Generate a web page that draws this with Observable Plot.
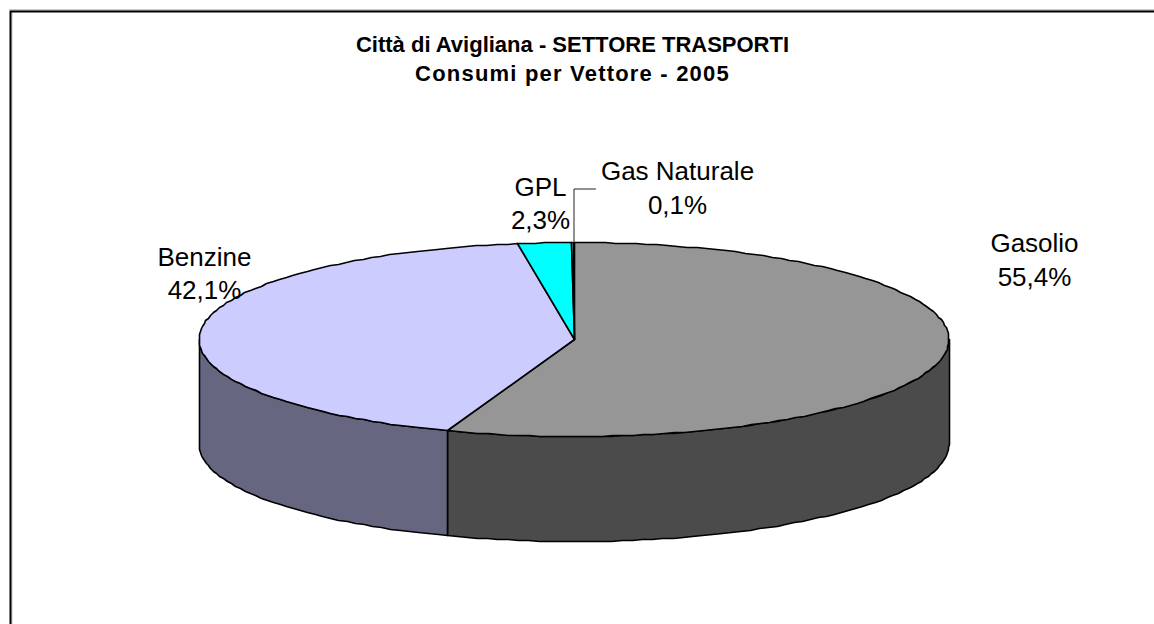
<!DOCTYPE html>
<html><head><meta charset="utf-8">
<script src="https://cdn.jsdelivr.net/npm/d3@7"></script>
<script src="https://cdn.jsdelivr.net/npm/@observablehq/plot@0.6"></script>
<style>html,body{margin:0;padding:0;background:#fff;overflow:hidden}svg{display:block}</style>
</head><body><div id="chart"></div>
<script>
const categories = ["Gasolio","Benzine","GPL","Gas Naturale"];
const values = [55.4,42.1,2.3,0.1];
const percentLabels = ["55,4%","42,1%","2,3%","0,1%"];
const topColors = ["#969696","#CCCCFF","#00FFFF","#CCFFFF"];
const wallColors = ["#4B4B4B","#666680","#008080","#668080"];
const titleLines = ["Città di Avigliana - SETTORE TRASPORTI","Consumi per Vettore - 2005"];

// pie layout, in the page's pixel units
const cx=573.5, cy=339, rx=375, ry=97, depth=105;
const total=d3.sum(values);
let cum=0;
const slices=categories.map((name,i)=>{const a0=cum/total*2*Math.PI;cum+=values[i];return {name,i,a0,a1:cum/total*2*Math.PI};});
const pt=(a,dy=0)=>({x:Math.round(cx+rx*Math.sin(a)),y:Math.round(cy-ry*Math.cos(a)+dy)});
const arc=(a0,a1,dy=0)=>{const n=Math.max(1,Math.ceil((a1-a0)/0.028));return d3.range(n+1).map(k=>pt(a0+(a1-a0)*k/n,dy));};

const walls=[],tops=[];
for(const s of slices){
  // only the front half (angles from 90° to 270°) shows a wall
  const lo=Math.max(s.a0,Math.PI/2), hi=Math.min(s.a1,1.5*Math.PI);
  if(hi>lo){
    [...arc(lo,hi),...arc(lo,hi,depth).reverse()].forEach(p=>walls.push({...p,i:s.i,fill:wallColors[s.i]}));
    walls.push({...arc(lo,hi)[0],i:s.i,fill:wallColors[s.i]});
  }
  [{x:Math.round(cx),y:cy},...arc(s.a0,s.a1),{x:Math.round(cx),y:cy}].forEach(p=>tops.push({...p,i:s.i,fill:topColors[s.i]}));
}
const labelPos=[[1034,243,277],[204,257,290],[540,187,220],[677,171,205]];
const labels=categories.flatMap((c,i)=>[
  {x:labelPos[i][0],y:labelPos[i][1],t:c},
  {x:labelPos[i][0],y:labelPos[i][2],t:percentLabels[i]}]);
const leader=[{x:573.5,y:cy-ry},{x:573.5,y:188.5},{x:595,y:188.5}];
const frame=[{x:10,y:624},{x:10,y:11},{x:1154,y:11}];

const chart=Plot.plot({
  width:1154,height:624,margin:0,
  style:{background:"#fff",fontFamily:"'Liberation Sans',Arial,sans-serif"},
  x:{domain:[0,1154],range:[0,1154],axis:null},
  y:{domain:[0,624],range:[0,624],axis:null},
  marks:[
    Plot.line([{x:11.5,y:624},{x:11.5,y:12}],{x:"x",y:"y",stroke:"#c8c8c8",strokeWidth:1}),
    Plot.line([{x:9,y:9.5},{x:1154,y:9.5}],{x:"x",y:"y",stroke:"#999",strokeWidth:1}),
    Plot.line(frame,{x:"x",y:"y",stroke:"#000",strokeWidth:2}),
    Plot.line(walls,{x:"x",y:"y",z:"i",fill:"fill",stroke:"#000",strokeWidth:1.6,strokeLinejoin:"round"}),
    Plot.line(tops,{x:"x",y:"y",z:"i",fill:"fill",stroke:"#000",strokeWidth:1.6,strokeLinejoin:"round"}),
    Plot.line(leader,{x:"x",y:"y",stroke:"#222",strokeWidth:1}),
    Plot.text(labels,{x:"x",y:"y",text:"t",fontSize:26,fill:"#000",textAnchor:"middle"}),
    Plot.text(titleLines,{x:()=>572,y:(d,i)=>[44,73][i],text:d=>d,fontSize:22,fontWeight:"bold",fill:"#000",textAnchor:"middle"})
  ]
});
d3.select(chart).selectAll("text").filter(function(){return this.textContent===titleLines[1];}).attr("letter-spacing","1.2px");
document.getElementById("chart").append(chart);
</script></body></html>
